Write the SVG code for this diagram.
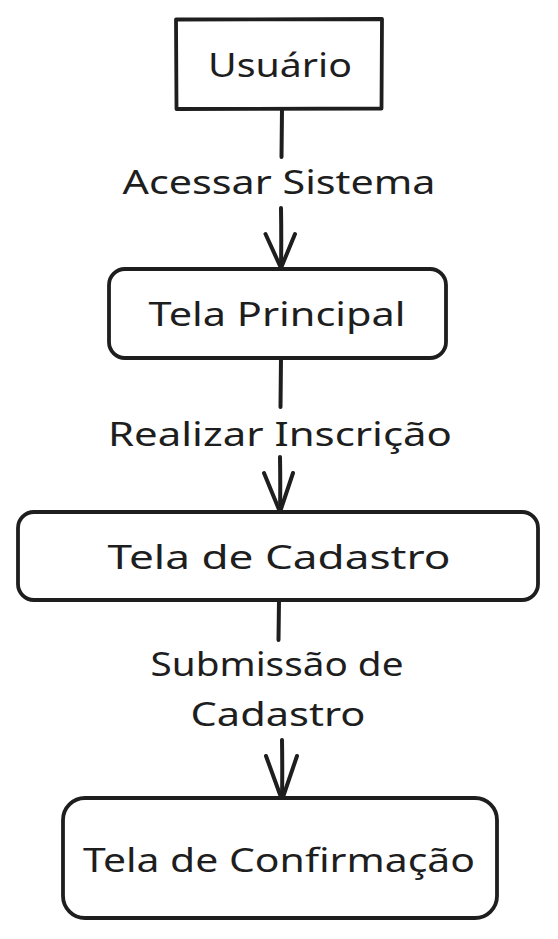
<svg xmlns="http://www.w3.org/2000/svg" width="558" height="939" viewBox="0 0 558 939">
<style>
.box{fill:#ffffff;stroke:#1e1e1e;stroke-width:3.8;stroke-linejoin:round;stroke-linecap:round}
.edge{fill:none;stroke:#1e1e1e;stroke-width:4;stroke-linecap:round;stroke-linejoin:round}
.t{font-family:"Noto Sans","DejaVu Sans",sans-serif;font-size:32px;fill:#1e1e1e;text-anchor:middle}
</style>
<rect width="558" height="939" fill="#ffffff"/>
<g id="connectors">
<g id="e1">
<path class="edge" d="M282 109 L281.5 157"/>
<path class="edge" d="M281 208 Q281.5 240 281 268"/>
<path class="edge" d="M265.5 234 L281 268 L295 234"/>
</g>
<g id="e2">
<path class="edge" d="M281 358 L280.5 407"/>
<path class="edge" d="M280 457 Q280.5 488 280 512"/>
<path class="edge" d="M264 473 L280 512 L293 473"/>
</g>
<g id="e3">
<path class="edge" d="M279 600 L278.5 640"/>
<path class="edge" d="M282 740 Q282.5 772 282 800"/>
<path class="edge" d="M266 756 L282 800 L297 756"/>
</g>
<text class="t" x="279" y="194" textLength="313" lengthAdjust="spacingAndGlyphs">Acessar Sistema</text>
<text class="t" x="280" y="446" textLength="344" lengthAdjust="spacingAndGlyphs">Realizar Inscrição</text>
<text class="t" x="277" y="676" textLength="253" lengthAdjust="spacingAndGlyphs">Submissão de</text>
<text class="t" x="278" y="726" textLength="175" lengthAdjust="spacingAndGlyphs">Cadastro</text>
</g>
<g id="usuario">
<path class="box" d="M176 19.5 L382 19 L381.5 108.5 L176.5 109 Z"/>
<text class="t" x="280" y="77" textLength="144" lengthAdjust="spacingAndGlyphs">Usuário</text>
</g>
<g id="tela-principal">
<rect class="box" x="109" y="269" width="337" height="89" rx="16"/>
<text class="t" x="277" y="326" textLength="257" lengthAdjust="spacingAndGlyphs">Tela Principal</text>
</g>
<g id="tela-cadastro">
<rect class="box" x="18" y="512" width="520" height="88" rx="16"/>
<text class="t" x="279" y="569" textLength="343" lengthAdjust="spacingAndGlyphs">Tela de Cadastro</text>
</g>
<g id="tela-confirmacao">
<rect class="box" x="63" y="798" width="434" height="120" rx="22"/>
<text class="t" x="279" y="872" textLength="392" lengthAdjust="spacingAndGlyphs">Tela de Confirmação</text>
</g>
</svg>
